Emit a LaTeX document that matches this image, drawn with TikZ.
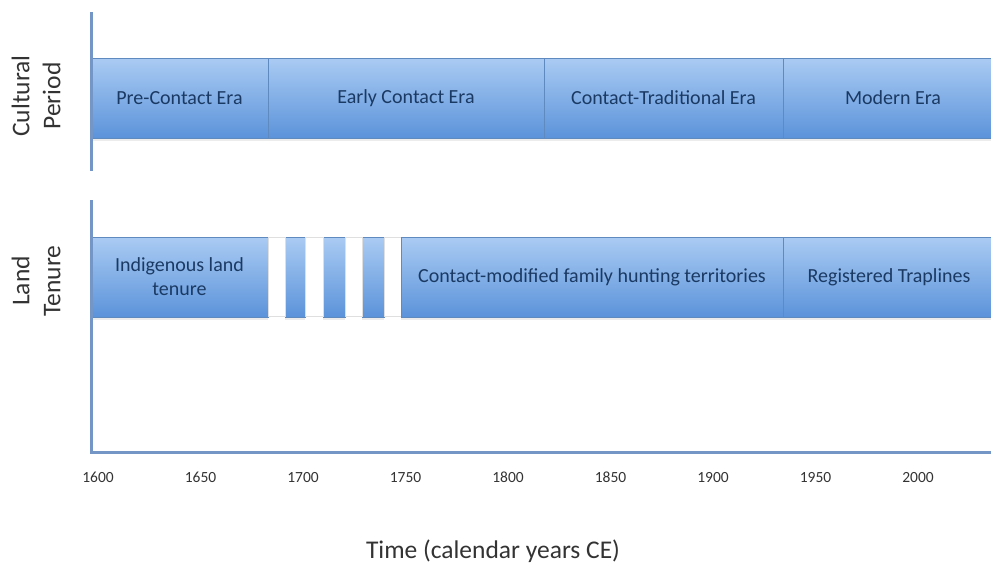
\documentclass[tikz,border=0pt]{standalone}
\usepackage{fontspec}
\setmainfont{Carlito}
\usetikzlibrary{positioning, shadows}
\definecolor{eratop}{HTML}{AACBF3}
\definecolor{erabottom}{HTML}{5B93DA}
\definecolor{eraline}{HTML}{5F8AC0}
\definecolor{eratext}{HTML}{1B3A63}
\definecolor{axisblue}{HTML}{7396C6}
\definecolor{ticktext}{HTML}{333333}

\begin{document}
\begin{tikzpicture}[
    x=1pt, y=-1pt,
    era/.style={rectangle, draw=eraline, line width=0.7pt, top color=eratop, bottom color=erabottom, minimum height=80pt, inner sep=0pt, text=eratext, font=\fontsize{20}{24}\selectfont, align=center, drop shadow={opacity=0.15, shadow xshift=0pt, shadow yshift=-2.5pt}},
    gapbox/.style={rectangle, draw=gray!25, fill=white, minimum height=79pt, inner sep=0pt},
    axis/.style={draw=axisblue, line width=3pt},
    tick/.style={font=\fontsize{15.5}{18}\selectfont, text=ticktext, text height=11pt, text depth=0pt},
    sidelabel/.style={font=\fontsize{25.5}{31}\selectfont, text=ticktext, align=center, rotate=90}
]
\useasboundingbox (0,0) rectangle (991,565);

% Cultural period row
\node[era, minimum width=177pt] (pre) at (179.5,98) {Pre-Contact Era};
\node[era, minimum width=276pt] (early) at (406,98) {Early Contact Era};
\node[era, minimum width=239pt] (trad) at (663.5,98) {Contact-Traditional Era};
\node[era, minimum width=220pt] (modern) at (893,98) {Modern Era};

% Land tenure row
\node[era, minimum width=177pt] (indig) at (179.5,277) {Indigenous land\\tenure};
\foreach \cx/\w [count=\i] in {295/20, 334/22, 373/22}
  \node[era, minimum width=\w pt] (stripe\i) at (\cx,277) {};
\foreach \cx/\w [count=\i] in {276.5/17, 314/18, 353.5/17, 392.5/17}
  \node[gapbox, minimum width=\w pt] (gap\i) at (\cx,277) {};
\node[era, minimum width=382pt] (family) at (592,277) {Contact-modified family hunting territories};
\node[era, minimum width=212pt] (trap) at (889,277) {Registered Traplines};

% Axes
\coordinate (upTop) at (91,12);
\coordinate (upBot) at (91,171);
\coordinate (lowTop) at (91,200);
\coordinate (origin) at (91,452);
\coordinate (xEnd) at (992,452);
\draw[axis] (upTop) -- (upBot);
\draw[axis] (lowTop) -- (origin) -- (xEnd);

% Year labels
\foreach \yr [count=\i from 0] in {1600,1650,...,2000}
  \node[tick] (t\yr) at (98+102.5*\i,477) {\yr};

% Axis titles
\node[sidelabel] (cultlabel) at (36,96) {Cultural\\Period};
\node[sidelabel] (landlabel) at (36,281) {Land\\Tenure};
\node[font=\fontsize{25.5}{31}\selectfont, text=ticktext] (xtitle) at (493,551) {Time (calendar years CE)};

\end{tikzpicture}
\end{document}
